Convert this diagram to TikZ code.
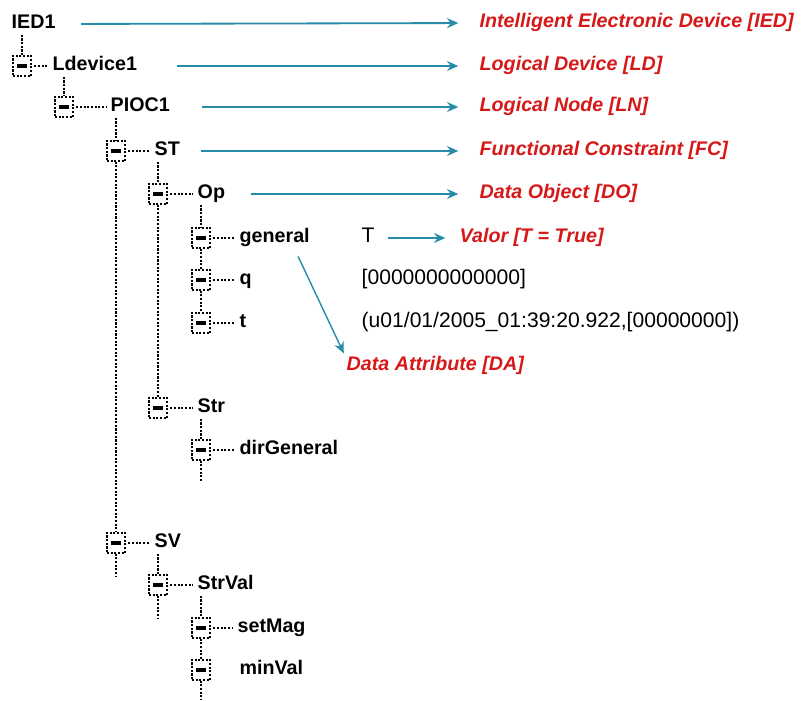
\documentclass[tikz,border=0pt]{standalone}
\usepackage{fontspec}
\setmainfont{Liberation Sans}
\usepackage{xcolor}
\usetikzlibrary{arrows.meta,positioning}
\definecolor{arrowteal}{RGB}{38,140,168}
\definecolor{labelred}{RGB}{214,24,24}

\begin{document}
\begin{tikzpicture}[
    x=0.025cm, y=-0.025cm,
    item/.style={anchor=west, inner sep=1pt, font=\fontsize{14}{16}\selectfont\bfseries, text height=10pt, text depth=3pt},
    value/.style={anchor=west, inner sep=1pt, font=\fontsize{15}{17}\selectfont, text height=10pt, text depth=3pt},
    tag/.style={anchor=west, inner sep=1pt, text=labelred, font=\fontsize{14}{16}\selectfont\bfseries\itshape, text height=9pt, text depth=3pt},
    tree/.style={dash pattern=on 1.5pt off 1.1pt, line width=0.8pt},
    twisty/.style={draw, tree, minimum width=0.45cm, minimum height=0.5cm, inner sep=0pt,
        path picture={\fill ([xshift=-3.8pt,yshift=-1.2pt]path picture bounding box.center) rectangle ([xshift=3.8pt,yshift=1.2pt]path picture bounding box.center);}},
    pointer/.style={-{Stealth[length=8pt,width=7pt]}, arrowteal, line width=1.3pt, shorten >=14pt}
]
    \useasboundingbox (0,0) rectangle (803,700);

    % tree items
    \node[item] (IED1) at (10,24) {IED1};
    \node[item] (Ldevice1) at (51,66) {Ldevice1};
    \node[item] (PIOC1) at (109,107) {PIOC1};
    \node[item] (ST) at (153,151) {ST};
    \node[item] (Op) at (196,194) {Op};
    \node[item] (general) at (238,238) {general};
    \node[item] (q) at (238,280) {q};
    \node[item] (t) at (238,323) {t};
    \node[item] (Str) at (196,408) {Str};
    \node[item] (dirGeneral) at (238,450) {dirGeneral};
    \node[item] (SV) at (153,543) {SV};
    \node[item] (StrVal) at (196,585) {StrVal};
    \node[item] (setMag) at (236,628) {setMag};
    \node[item] (minVal) at (238,670) {minVal};

    % expand boxes
    \node[twisty] (iLD) at (22,66) {};
    \node[twisty] (iLN) at (64,107) {};
    \node[twisty] (iST) at (116,151) {};
    \node[twisty] (iOp) at (158,194) {};
    \node[twisty] (iGen) at (201,238) {};
    \node[twisty] (iQ) at (201,280) {};
    \node[twisty] (iT) at (201,323) {};
    \node[twisty] (iStr) at (158,408) {};
    \node[twisty] (iDir) at (201,450) {};
    \node[twisty] (iSV) at (116,543) {};
    \node[twisty] (iSVal) at (158,585) {};
    \node[twisty] (iSet) at (201,628) {};
    \node[twisty] (iMin) at (201,670) {};

    \coordinate (endDir) at (201,482);
    \coordinate (endSV) at (116,577);
    \coordinate (endSVal) at (158,618);
    \coordinate (endMin) at (201,700);

    % values
    \node[value] (vGen) at (360,238) {T};
    \node[value] (vQ) at (360,280) {[0000000000000]};
    \node[value] (vT) at (360,323) {(u01/01/2005\_01:39:20.922,[00000000])};

    % labels
    \node[tag] (lIED) at (478,23) {Intelligent Electronic Device [IED]};
    \node[tag] (lLD) at (478,66) {Logical Device [LD]};
    \node[tag] (lLN) at (478,107) {Logical Node [LN]};
    \node[tag] (lFC) at (478,151) {Functional Constraint [FC]};
    \node[tag] (lDO) at (478,194) {Data Object [DO]};
    \node[tag] (lVal) at (458,238) {Valor [T = True]};
    \node[tag] (lDA) at (345,366) {Data Attribute [DA]};

    % tree lines
    \draw[tree] (IED1.south -| iLD) -- (iLD.north);
    \draw[tree] (Ldevice1.south -| iLN) -- (iLN.north);
    \draw[tree] (PIOC1.south -| iST) -- (iST.north);
    \draw[tree] (iST.south) -- (iSV.north);
    \draw[tree] (iSV.south) -- (endSV);
    \draw[tree] (ST.south -| iOp) -- (iOp.north);
    \draw[tree] (iOp.south) -- (iStr.north);
    \draw[tree] (Op.south -| iGen) -- (iGen.north);
    \draw[tree] (iGen.south) -- (iQ.north);
    \draw[tree] (iQ.south) -- (iT.north);
    \draw[tree] (Str.south -| iDir) -- (iDir.north);
    \draw[tree] (iDir.south) -- (endDir);
    \draw[tree] (SV.south -| iSVal) -- (iSVal.north);
    \draw[tree] (iSVal.south) -- (endSVal);
    \draw[tree] (StrVal.south -| iSet) -- (iSet.north);
    \draw[tree] (iSet.south) -- (iMin.north);
    \draw[tree] (iMin.south) -- (endMin);
    \foreach \icn/\txt in {iLD/Ldevice1, iLN/PIOC1, iST/ST, iOp/Op, iGen/general, iQ/q, iT/t, iStr/Str, iDir/dirGeneral, iSV/SV, iSVal/StrVal, iSet/setMag}
        \draw[tree, shorten <=2pt, shorten >=2pt] (\icn.east) -- (\txt.west);

    % arrows to labels
    \draw[pointer, shorten <=17pt] (IED1.east) -- (lIED.west);
    \draw[pointer, shorten <=27pt] (Ldevice1.east) -- (lLD.west);
    \draw[pointer, shorten <=22pt] (PIOC1.east) -- (lLN.west);
    \draw[pointer, shorten <=14pt] (ST.east) -- (lFC.west);
    \draw[pointer, shorten <=17pt] (Op.east) -- (lDO.west);
    \draw[pointer, line width=2pt, shorten <=8pt, shorten >=9pt] (vGen.east) -- (lVal.west);
    \draw[pointer, line width=1pt, shorten <=6pt, shorten >=2pt] ([xshift=-12pt]general.south east) -- (lDA.north west);
\end{tikzpicture}
\end{document}
